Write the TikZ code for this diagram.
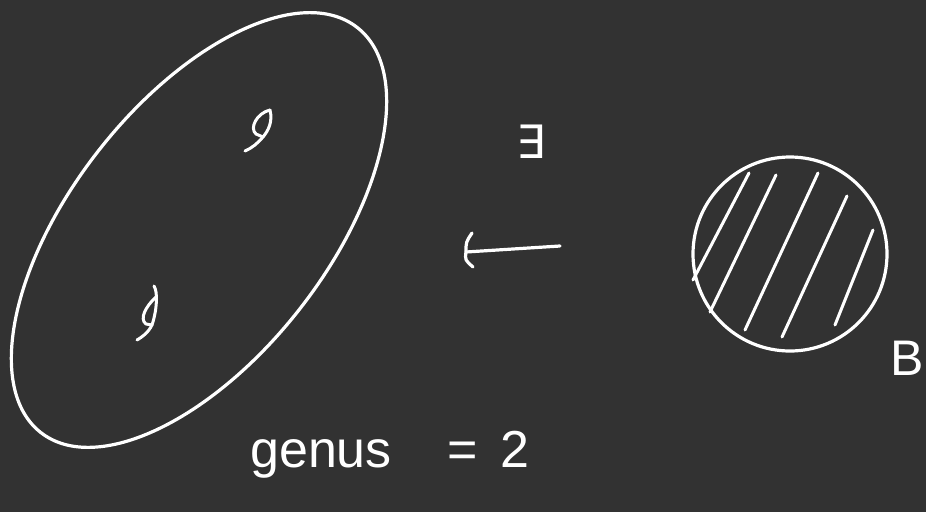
\documentclass[tikz,border=0pt]{standalone}
\usepackage{fontspec}
\setmainfont{Liberation Sans}
\newfontfamily\symfont{DejaVu Sans}
\definecolor{bgc}{RGB}{50,50,50}
\tikzset{
  ink/.style={draw=white, line width=3.2pt, line cap=round, line join=round},
  fineink/.style={draw=white, line width=3pt, line cap=round, line join=round},
  hand/.style={text=white, inner sep=0pt, font=\fontsize{52}{62}\selectfont}
}
\begin{document}
\begin{tikzpicture}[x=1pt, y=-1pt]
\fill[bgc] (0,0) rectangle (926,512);
\useasboundingbox (0,0) rectangle (926,512);

% surface of genus 2
\draw[ink, rotate around={52:(199,230)}] (199,230) ellipse (257pt and 128pt);

% handle marks
\draw[fineink] (270,110) .. controls (273,122) and (268,131) .. (263,137)
                         .. controls (258,143) and (252,148) .. (245,151);
\draw[fineink] (270,110) .. controls (257,113) and (249,128) .. (256,134)
                         .. controls (259,136) .. (263,137);
\draw[fineink] (154,286) .. controls (158,292) and (157,310) .. (152,325)
                         .. controls (148,333) and (142,337) .. (137,340);
\draw[fineink] (156,297) .. controls (146,306) and (139,319) .. (146,324)
                         .. controls (149,325) .. (152,325);

% exists symbol
\node[hand, font=\symfont\fontsize{46}{55}\selectfont] (ex) at (531,142) {∃};

% arrow
\coordinate (arrS) at (560,246);
\coordinate (arrE) at (466,252);
\draw[ink] (arrS) -- (arrE);
\draw[ink] ([shift={(6,-19)}]arrE) .. controls ([shift={(0,-10)}]arrE) .. (arrE)
           .. controls ([shift={(-1,8)}]arrE) .. ([shift={(7,15)}]arrE);

% disk B
\node[circle, draw=white, line width=3.2pt, minimum size=194pt, inner sep=0pt] (disk) at (790,254) {};
\draw[fineink] (693,280) -- (749,173);
\draw[fineink] (710,312) -- (776,175);
\draw[fineink] (745,330) -- (818,173);
\draw[fineink] (782,337) -- (847,196);
\draw[fineink] (835,325) -- (873,230);
\node[hand, anchor=base west, font=\fontsize{50}{60}\selectfont] (B) at (890,375) {B};

% label
\node[hand, anchor=base west] (genus) at (250,467) {genus\hspace{56pt}=\hspace{22pt}2};
\end{tikzpicture}
\end{document}
